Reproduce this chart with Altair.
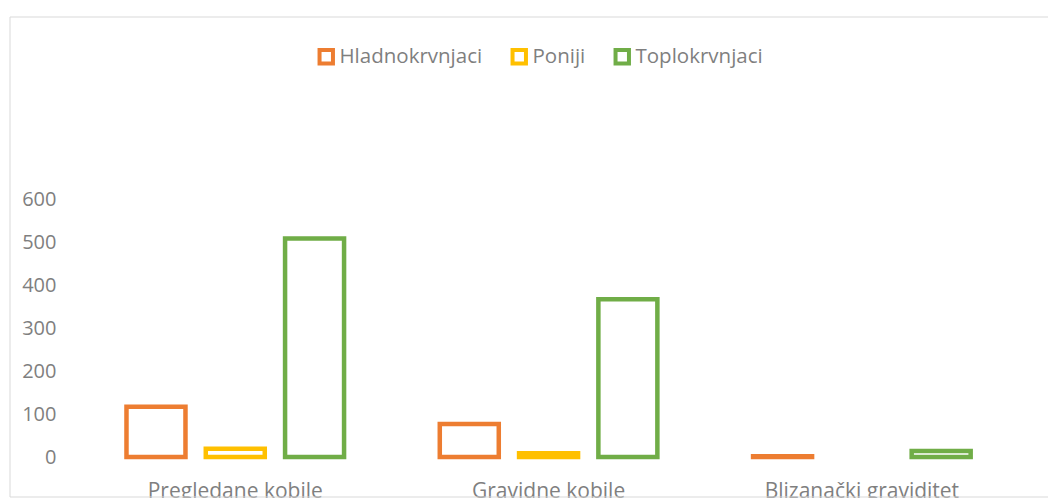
import altair as alt
import pandas as pd

categories = ["Pregledane kobile", "Gravidne kobile", "Blizanački graviditet"]
series = ["Hladnokrvnjaci", "Poniji", "Toplokrvnjaci"]
hladnokrvnjaci = [117, 77, 2]
poniji = [19, 9, 0]
toplokrvnjaci = [508, 367, 14]
colors = ["#ED7D31", "#FFC000", "#70AD47"]
y_ticks = [0, 100, 200, 300, 400, 500, 600]

rows = []
for s, vals in zip(series, [hladnokrvnjaci, poniji, toplokrvnjaci]):
    for c, v in zip(categories, vals):
        rows.append({"category": c, "series": s, "value": v})
df = pd.DataFrame(rows)

text_color = "#7F7F7F"
border_color = "#D9D9D9"
font = "Open Sans"
W, H = 1038, 480

bars = (
    alt.Chart(df)
    .transform_filter("datum.value > 0")
    .mark_bar(fill="white", strokeWidth=4.5)
    .encode(
        x=alt.X(
            "category:N",
            sort=categories,
            scale=alt.Scale(paddingInner=0.3055, paddingOuter=0.3093, align=0.601),
            axis=alt.Axis(
                title=None, labelAngle=0, domain=False, ticks=False, grid=False,
                offset=-40, labelPadding=23, labelFontSize=21, labelFont=font,
                labelColor=text_color, labelLimit=0,
            ),
        ),
        xOffset=alt.XOffset("series:N", sort=series,
                            scale=alt.Scale(paddingInner=0.256, paddingOuter=0)),
        y=alt.Y(
            "value:Q",
            scale=alt.Scale(domain=[-93.0, 1023.3], nice=False, zero=False),
            axis=alt.Axis(
                title=None, values=y_ticks, domain=False, ticks=False, grid=False,
                offset=-46, labelPadding=0, labelFontSize=20, labelFont=font,
                labelColor=text_color,
            ),
        ),
        stroke=alt.Stroke(
            "series:N",
            scale=alt.Scale(domain=series, range=colors),
            legend=alt.Legend(
                title=None, orient="none", legendX=306, legendY=29.5,
                direction="horizontal", symbolType="square", symbolSize=180,
                symbolFillColor="white", symbolStrokeWidth=4, labelOffset=3,
                columnPadding=21, labelFontSize=20.5, labelFont=font,
                labelColor=text_color, labelLimit=0,
            ),
        ),
    )
)

frame = pd.DataFrame({"k": [0]})
top_line = alt.Chart(frame).mark_rule(color=border_color, strokeWidth=1).encode(
    x=alt.value(0), x2=alt.value(W), y=alt.value(0))
left_line = alt.Chart(frame).mark_rule(color=border_color, strokeWidth=1).encode(
    x=alt.value(0), y=alt.value(0), y2=alt.value(H))
bottom_line = alt.Chart(frame).mark_rule(color=border_color, strokeWidth=1).encode(
    x=alt.value(0), x2=alt.value(W), y=alt.value(H))

chart = (
    alt.layer(bars, top_line, left_line, bottom_line)
    .properties(
        width=W, height=H,
        autosize=alt.AutoSizeParams(type="none"),
        padding={"left": 2, "top": 9, "right": 0, "bottom": 1},
        background="white",
    )
    .configure_view(strokeWidth=0)
)

chart.save("out.html", embed_options={"renderer": "svg", "actions": False})
